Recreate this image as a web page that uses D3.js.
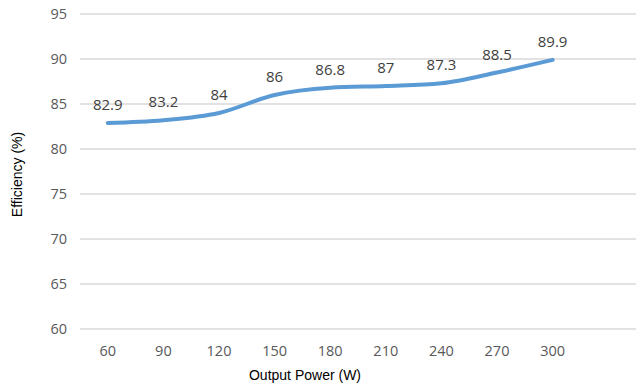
<!DOCTYPE html>
<html>
<head>
<meta charset="utf-8">
<script src="https://cdn.jsdelivr.net/npm/d3@7"></script>
<style>
  body { margin: 0; background: #fff; }
  svg { display: block; }
</style>
</head>
<body>
<script>
var categories = ["60", "90", "120", "150", "180", "210", "240", "270", "300", ""];
var efficiency = [82.9, 83.2, 84, 86, 86.8, 87, 87.3, 88.5, 89.9];
var yTicks = [60, 65, 70, 75, 80, 85, 90, 95];

var width = 640, height = 385,
  margin = { top: 14, right: 4, bottom: 56, left: 80 },
  innerWidth = width - margin.left - margin.right,
  innerHeight = height - margin.top - margin.bottom;

var svg = d3.select("body").append("svg")
  .attr("width", width)
  .attr("height", height);

var g = svg.append("g")
  .attr("transform", "translate(" + margin.left + "," + margin.top + ")");

var xScale = d3.scaleBand().domain(categories).range([0, innerWidth]);
var yScale = d3.scaleLinear().domain([60, 95]).range([innerHeight, 0]);

// gridlines
g.selectAll(".grid")
  .data(yTicks)
  .enter().append("line")
  .attr("x1", 0)
  .attr("x2", innerWidth)
  .attr("y1", function (d) { return yScale(d); })
  .attr("y2", function (d) { return yScale(d); })
  .attr("stroke", "#d9d9d9")
  .attr("stroke-width", 1.3);

// y tick labels
g.selectAll(".ytick")
  .data(yTicks)
  .enter().append("text")
  .attr("x", -13)
  .attr("y", function (d) { return yScale(d); })
  .attr("dy", "0.35em")
  .attr("text-anchor", "end")
  .attr("fill", "#595959")
  .style("font", "14.5px 'Open Sans', sans-serif")
  .text(function (d) { return d; });

// x tick labels (last slot is empty)
g.selectAll(".xtick")
  .data(categories.filter(function (d) { return d !== ""; }))
  .enter().append("text")
  .attr("x", function (d) { return xScale(d) + xScale.bandwidth() / 2; })
  .attr("y", innerHeight + 27)
  .attr("text-anchor", "middle")
  .attr("fill", "#595959")
  .style("font", "14.5px 'Open Sans', sans-serif")
  .text(function (d) { return d; });

var X = function (d, i) { return xScale(categories[i]) + xScale.bandwidth() / 2; };
var Y = function (d) { return yScale(d); };

var line = d3.line().x(X).y(Y).curve(d3.curveMonotoneX);

g.append("path")
  .datum(efficiency)
  .attr("fill", "none")
  .attr("stroke", "#5b9bd5")
  .attr("stroke-width", 4)
  .attr("stroke-linecap", "round")
  .attr("d", line);

// data labels
g.selectAll(".label")
  .data(efficiency)
  .enter().append("text")
  .attr("x", X)
  .attr("y", function (d) { return Y(d) - 13; })
  .attr("text-anchor", "middle")
  .attr("fill", "#404040")
  .style("font", "15px 'Open Sans', sans-serif")
  .text(function (d) { return d; });

// axis titles
svg.append("text")
  .attr("transform", "translate(22," + (margin.top + innerHeight / 2 + 3) + ") rotate(-90)")
  .attr("text-anchor", "middle")
  .attr("fill", "#000")
  .style("font", "14px 'Liberation Sans', Arial, sans-serif")
  .text("Efficiency (%)");

svg.append("text")
  .attr("x", 305)
  .attr("y", 380)
  .attr("text-anchor", "middle")
  .attr("fill", "#000")
  .style("font", "14px 'Liberation Sans', Arial, sans-serif")
  .text("Output Power (W)");
</script>
</body>
</html>
